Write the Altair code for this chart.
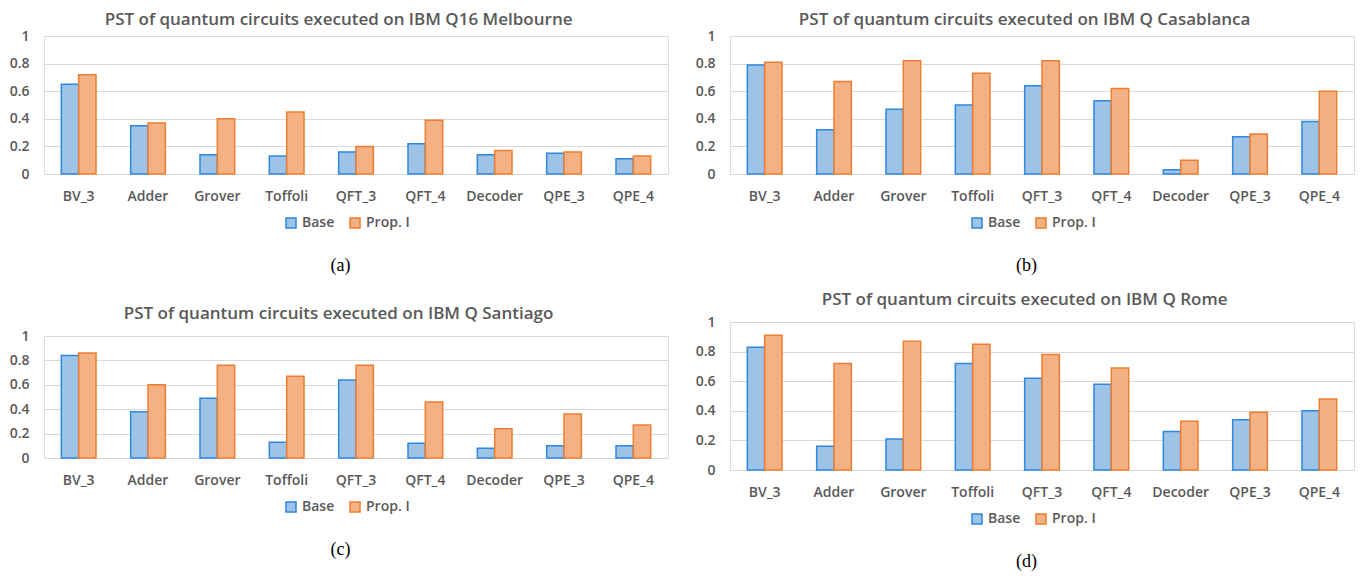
import altair as alt
import pandas as pd

circuits = ["BV_3", "Adder", "Grover", "Toffoli", "QFT_3", "QFT_4", "Decoder", "QPE_3", "QPE_4"]
series = ["Base", "Prop. I"]

melbourne_base = [0.65, 0.35, 0.14, 0.13, 0.16, 0.22, 0.14, 0.15, 0.11]
melbourne_prop = [0.72, 0.37, 0.40, 0.45, 0.20, 0.39, 0.17, 0.16, 0.13]

casablanca_base = [0.79, 0.32, 0.47, 0.50, 0.64, 0.53, 0.03, 0.27, 0.38]
casablanca_prop = [0.81, 0.67, 0.82, 0.73, 0.82, 0.62, 0.10, 0.29, 0.60]

santiago_base = [0.84, 0.38, 0.49, 0.13, 0.64, 0.12, 0.08, 0.10, 0.10]
santiago_prop = [0.86, 0.60, 0.76, 0.67, 0.76, 0.46, 0.24, 0.36, 0.27]

rome_base = [0.83, 0.16, 0.21, 0.72, 0.62, 0.58, 0.26, 0.34, 0.40]
rome_prop = [0.91, 0.72, 0.87, 0.85, 0.78, 0.69, 0.33, 0.39, 0.48]

y_ticks = [0, 0.2, 0.4, 0.6, 0.8, 1]

FILL = ["#9DC3E6", "#F4B183"]
STROKE = ["#2E86DE", "#ED7D31"]
GRAY = "#595959"
FONT = "Open Sans"
WEIGHT = 600


def panel(title, base, prop, caption, height, title_offset):
    df = pd.DataFrame({
        "Circuit": circuits * 2,
        "Series": ["Base"] * len(circuits) + ["Prop. I"] * len(circuits),
        "PST": base + prop,
    })
    legend = alt.Legend(
        title=None, orient="none", direction="horizontal",
        legendX=240, legendY=height + 42,
        symbolType="square", symbolSize=100, symbolStrokeWidth=1.5,
        labelFont=FONT, labelFontSize=14, labelFontWeight=WEIGHT, labelColor=GRAY,
        columnPadding=12, labelOffset=4,
    )
    return alt.Chart(
        df,
        title=alt.Title(title, font=FONT, fontSize=17, fontWeight=WEIGHT, color=GRAY,
                        anchor="middle", frame="bounds", offset=title_offset),
    ).mark_bar(strokeWidth=1.5).encode(
        x=alt.X("Circuit:N", sort=circuits,
                scale=alt.Scale(paddingInner=0.5, paddingOuter=0.25),
                axis=alt.Axis(title=caption, labelAngle=0, ticks=False, domain=False, grid=False,
                              labelFont=FONT, labelFontSize=14, labelFontWeight=WEIGHT,
                              labelColor=GRAY, labelPadding=15,
                              titleFont="Liberation Serif", titleFontSize=18,
                              titleFontWeight="normal", titleColor="black",
                              titlePadding=53, titleX=296)),
        xOffset=alt.XOffset("Series:N", sort=series),
        y=alt.Y("PST:Q", scale=alt.Scale(domain=[0, 1]),
                axis=alt.Axis(values=y_ticks, format="~g", title=None, ticks=False, domain=False,
                              gridColor="#D9D9D9", gridWidth=1,
                              labelFont=FONT, labelFontSize=14, labelFontWeight=WEIGHT,
                              labelColor=GRAY, labelPadding=15)),
        fill=alt.Fill("Series:N", sort=series, scale=alt.Scale(domain=series, range=FILL), legend=legend),
        stroke=alt.Stroke("Series:N", sort=series, scale=alt.Scale(domain=series, range=STROKE), legend=legend),
    ).properties(width=624, height=height)


a = panel("PST of quantum circuits executed on IBM Q16 Melbourne", melbourne_base, melbourne_prop, "(a)", 138, 0)
b = panel("PST of quantum circuits executed on IBM Q Casablanca", casablanca_base, casablanca_prop, "(b)", 138, 0)
c = panel("PST of quantum circuits executed on IBM Q Santiago", santiago_base, santiago_prop, "(c)", 122, 6)
d = panel("PST of quantum circuits executed on IBM Q Rome", rome_base, rome_prop, "(d)", 148, 6)

left = alt.vconcat(a, c, spacing=29).resolve_scale(fill="independent", stroke="independent")
right = alt.vconcat(b, d, spacing=15).resolve_scale(fill="independent", stroke="independent")

chart = alt.hconcat(left, right, spacing=25).resolve_scale(
    fill="independent", stroke="independent"
).properties(padding={"top": 2, "left": 0, "right": 0, "bottom": 0}).configure_view(
    stroke=None
).configure(background="white")

chart.save("out.html", embed_options={"renderer": "svg", "actions": False})
